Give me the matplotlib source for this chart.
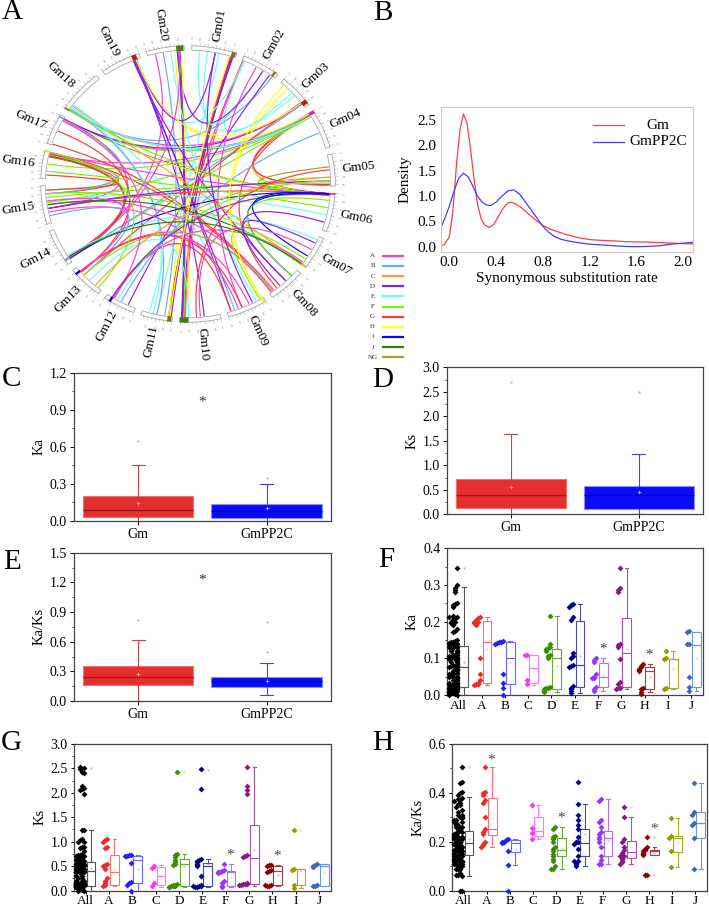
import numpy as np
import matplotlib
matplotlib.use('Agg')
import matplotlib.pyplot as plt
from matplotlib.ticker import AutoMinorLocator

plt.rcParams['font.family'] = ['Liberation Serif', 'DejaVu Serif']

W, H = 709, 909

# ---------------- data ----------------
# A: circos
chroms = ['Gm%02d' % i for i in range(1, 21)]
chrom_len = [56, 48, 45, 52, 42, 51, 44, 47, 50, 51, 39, 40, 44, 49, 51, 37, 41, 58, 50, 47]
groups = ['A', 'B', 'C', 'D', 'E', 'F', 'G', 'H', 'I', 'J', 'NG']
group_col = ['#ff3fd0', '#6aa8ff', '#ff9a33', '#8a22e0', '#6ffcff', '#80ee10',
             '#ff3a3a', '#ffff1a', '#0a0aee', '#2e7d10', '#a8a020']
# (chrom, start Mb, end Mb, group) gene blocks on the ideogram
gene_blocks = [(20, 37, 46, 'J'), (1, 50, 55, 'NG'), (2, 42, 45, 'NG'), (3, 37, 43, 'G'),
               (4, 0, 4, 'A'), (6, 0, 2, 'A'), (7, 42, 44, 'C'), (9, 1, 3, 'H'),
               (10, 40, 51, 'J'), (11, 1, 6, 'NG'), (12, 31, 34, 'I'), (13, 36, 39, 'I'),
               (14, 5, 8, 'B'), (16, 35, 37, 'H'), (17, 37, 39, 'B'), (18, 0, 2, 'NG'), (19, 40, 46, 'G')]
# (chromA, posA, chromB, posB, group)
links = [
    (4, 1.0, 6, 1.0, 'A'), (4, 1.5, 6, 0.5, 'G'), (4, 2.0, 6, 1.5, 'F'), (4, 2.5, 6, 2.0, 'H'),
    (4, 0.5, 5, 41.0, 'A'), (4, 3.0, 5, 40.0, 'G'), (5, 16.0, 6, 1.0, 'NG'), (5, 30.0, 6, 3.0, 'F'),
    (4, 1.0, 17, 38.0, 'A'), (4, 2.0, 18, 1.0, 'H'), (4, 3.0, 17, 36.0, 'F'), (4, 1.5, 16, 34.0, 'A'),
    (4, 2.5, 18, 3.0, 'B'), (4, 0.8, 19, 43.0, 'H'), (4, 4.0, 16, 20.0, 'F'), (4, 5.0, 15, 28.0, 'F'),
    (4, 3.5, 8, 35.0, 'G'), (4, 6.0, 14, 6.0, 'F'),
    (3, 39.0, 17, 38.0, 'D'), (3, 38.0, 18, 2.0, 'A'), (3, 40.0, 14, 5.0, 'B'), (3, 37.0, 13, 30.0, 'G'),
    (3, 20.0, 2, 3.0, 'E'), (3, 12.0, 9, 2.0, 'H'),
    (1, 50.0, 11, 4.0, 'G'), (1, 51.0, 11, 2.0, 'G'), (1, 52.0, 10, 45.0, 'G'), (1, 52.5, 11, 3.0, 'A'),
    (1, 53.0, 11, 1.5, 'D'), (1, 51.5, 10, 47.0, 'D'), (2, 1.0, 11, 5.0, 'G'), (2, 2.0, 10, 44.0, 'A'),
    (1, 35.0, 11, 20.0, 'E'), (1, 20.0, 2, 30.0, 'E'), (1, 10.0, 3, 25.0, 'E'),
    (2, 44.0, 18, 1.0, 'B'), (2, 40.0, 12, 10.0, 'D'), (2, 2.5, 19, 45.0, 'E'), (2, 20.0, 9, 30.0, 'A'),
    (20, 40.0, 10, 47.0, 'J'), (20, 41.0, 10, 46.0, 'F'), (20, 42.0, 10, 48.0, 'D'), (20, 39.0, 10, 49.0, 'D'),
    (20, 38.0, 2, 30.0, 'D'), (20, 35.0, 11, 5.0, 'H'), (20, 43.0, 10, 40.0, 'H'), (20, 30.0, 9, 10.0, 'E'),
    (20, 10.0, 14, 8.0, 'A'), (20, 20.0, 11, 10.0, 'B'),
    (19, 42.0, 10, 20.0, 'D'), (19, 41.0, 9, 40.0, 'D'), (19, 43.0, 9, 45.0, 'D'), (19, 40.0, 8, 20.0, 'D'),
    (19, 44.0, 1, 30.0, 'D'), (19, 44.0, 3, 38.0, 'H'),
    (17, 38.0, 6, 1.0, 'I'), (17, 37.0, 6, 1.5, 'H'), (17, 37.5, 14, 6.0, 'I'), (17, 36.5, 14, 7.0, 'H'),
    (17, 38.5, 14, 6.5, 'A'), (16, 36.0, 8, 44.0, 'G'), (17, 1.0, 8, 42.0, 'G'), (16, 35.0, 6, 2.0, 'A'),
    (16, 34.0, 14, 7.0, 'A'), (16, 30.0, 15, 20.0, 'A'), (16, 33.0, 15, 40.0, 'G'), (16, 32.0, 15, 45.0, 'F'),
    (16, 31.0, 14, 5.0, 'J'), (16, 5.0, 15, 45.0, 'G'), (17, 36.0, 15, 40.0, 'B'), (17, 20.0, 13, 35.0, 'G'),
    (18, 8.0, 7, 42.0, 'C'), (18, 4.0, 4, 5.0, 'E'), (18, 6.0, 11, 25.0, 'E'), (18, 10.0, 9, 40.0, 'E'),
    (18, 3.0, 11, 20.0, 'B'), (18, 2.0, 6, 3.0, 'F'),
    (14, 6.0, 6, 1.0, 'I'), (14, 6.5, 20, 40.0, 'A'), (14, 7.5, 16, 30.0, 'G'), (14, 10.0, 7, 5.0, 'E'),
    (15, 25.0, 8, 40.0, 'A'), (15, 15.0, 9, 35.0, 'A'), (15, 30.0, 6, 30.0, 'E'), (15, 35.0, 5, 38.0, 'F'),
    (15, 40.0, 7, 35.0, 'F'), (15, 20.0, 6, 1.0, 'G'), (15, 20.0, 5, 35.0, 'D'), (15, 10.0, 13, 30.0, 'B'),
    (16, 10.0, 6, 20.0, 'F'), (15, 25.0, 7, 44.0, 'J'),
    (13, 37.0, 8, 44.0, 'A'), (13, 36.0, 9, 20.0, 'A'), (13, 36.5, 9, 30.0, 'G'), (13, 35.0, 15, 30.0, 'A'),
    (13, 30.0, 8, 42.0, 'F'), (13, 5.0, 16, 36.0, 'F'), (13, 20.0, 10, 40.0, 'E'), (13, 10.0, 5, 30.0, 'C'),
    (12, 33.0, 7, 40.0, 'A'), (12, 31.0, 9, 45.0, 'G'), (12, 32.0, 5, 35.0, 'F'), (12, 25.0, 11, 30.0, 'E'),
    (12, 20.0, 4, 30.0, 'B'), (12, 30.0, 17, 35.0, 'A'), (12, 32.5, 6, 3.0, 'D'),
    (6, 2.0, 8, 10.0, 'I'), (6, 1.0, 7, 30.0, 'I'), (7, 10.0, 8, 20.0, 'D'), (7, 44.0, 9, 5.0, 'F'),
    (6, 10.0, 8, 10.0, 'F'), (8, 30.0, 6, 40.0, 'D'), (7, 43.0, 14, 8.0, 'J'), (9, 15.0, 1, 30.0, 'D'),
    (10, 30.0, 5, 20.0, 'G'), (11, 3.0, 1, 48.0, 'H'), (9, 3.0, 3, 5.0, 'H'), (10, 25.0, 7, 20.0, 'A'),
]

# B: density of Ks
gm_x = [-0.074, -0.04, 0.0, 0.03, 0.06, 0.09, 0.12, 0.15, 0.18, 0.21, 0.24, 0.27, 0.30, 0.34,
        0.38, 0.42, 0.46, 0.50, 0.53, 0.57, 0.62, 0.68, 0.74, 0.80, 0.86, 0.92, 1.0, 1.1, 1.2,
        1.3, 1.4, 1.5, 1.6, 1.7, 1.8, 1.9, 2.0, 2.08]
gm_y = [0.01, 0.05, 0.2, 0.7, 1.6, 2.3, 2.62, 2.45, 1.95, 1.35, 0.85, 0.56, 0.43, 0.38,
        0.44, 0.6, 0.76, 0.86, 0.88, 0.84, 0.76, 0.64, 0.52, 0.42, 0.35, 0.3, 0.24, 0.18, 0.14,
        0.125, 0.115, 0.1, 0.095, 0.09, 0.08, 0.07, 0.06, 0.055]
pp_x = [-0.074, -0.04, 0.0, 0.04, 0.08, 0.12, 0.16, 0.2, 0.24, 0.28, 0.32, 0.35, 0.40, 0.45,
        0.50, 0.55, 0.60, 0.65, 0.70, 0.75, 0.80, 0.85, 0.90, 0.95, 1.0, 1.1, 1.2, 1.3, 1.4,
        1.5, 1.6, 1.7, 1.8, 1.9, 2.0, 2.08]
pp_y = [0.37, 0.55, 0.8, 1.1, 1.35, 1.45, 1.38, 1.2, 1.0, 0.88, 0.82, 0.81, 0.88, 1.0,
        1.1, 1.12, 1.04, 0.88, 0.72, 0.56, 0.4, 0.28, 0.2, 0.15, 0.12, 0.08, 0.05, 0.035, 0.02,
        0.005, 0.0, 0.005, 0.02, 0.05, 0.07, 0.085]

# C, D, E: Gm vs GmPP2C box stats
two_names = ['Gm', 'GmPP2C']
c_q1, c_med, c_q3, c_lo, c_hi, c_mean = [0.03, 0.02], [0.09, 0.075], [0.2, 0.135], [0.0, 0.0], [0.455, 0.295], [0.14, 0.1]
c_fl = [[0.645], [0.35]]
d_q1, d_med, d_q3, d_lo, d_hi, d_mean = [0.12, 0.1], [0.4, 0.4], [0.73, 0.58], [0.0, 0.0], [1.63, 1.23], [0.55, 0.45]
d_fl = [[2.7], [2.5]]
e_q1, e_med, e_q3, e_lo, e_hi, e_mean = [0.16, 0.14], [0.24, 0.2], [0.35, 0.245], [0.0, 0.06], [0.62, 0.38], [0.27, 0.2]
e_fl = [[0.82], [0.5, 0.8]]

# F, G, H: per subfamily
cats = ['All', 'A', 'B', 'C', 'D', 'E', 'F', 'G', 'H', 'I', 'J']
ka_pts = [
    [0.213, 0.21, 0.205, 0.2, 0.2, 0.198, 0.195, 0.19, 0.1, 0.058, 0.04, 0.032, 0.03, 0.03, 0.028],
    [0.148, 0.145, 0.145, 0.143, 0.14, 0.058, 0.032, 0.02, 0.0],
    [0.11, 0.108, 0.04, 0.03],
    [0.215, 0.14, 0.13, 0.128, 0.125, 0.12, 0.11, 0.105, 0.1, 0.022, 0.02, 0.018, 0.015, 0.012, 0.01, 0.008],
    [0.248, 0.245, 0.24, 0.212, 0.205, 0.115, 0.105, 0.1, 0.082, 0.078, 0.075, 0.025, 0.02, 0.015, 0.01, 0.005],
    [0.1, 0.095, 0.09, 0.058, 0.05, 0.047, 0.045, 0.022, 0.015, 0.01],
    [0.345, 0.293, 0.285, 0.28, 0.14, 0.135, 0.13, 0.098, 0.035, 0.03, 0.02, 0.018, 0.015],
    [0.085, 0.08, 0.076, 0.072, 0.068, 0.065, 0.02, 0.015, 0.008, 0.004],
    [0.12, 0.1, 0.097, 0.02, 0.015],
    [0.175, 0.172, 0.14, 0.138, 0.048, 0.022, 0.012],
]
ka_ng = [0.0, 0.002, 0.005, 0.008, 0.01, 0.012, 0.015, 0.018, 0.02, 0.022, 0.025, 0.03,
         0.035, 0.04, 0.05, 0.06, 0.07, 0.08, 0.09, 0.12, 0.15, 0.18, 0.25, 0.3]
ka_q1 = [0.022, 0.033, 0.03, 0.033, 0.017, 0.022, 0.022, 0.022, 0.017, 0.02, 0.022]
ka_med = [0.075, 0.145, 0.1, 0.073, 0.102, 0.082, 0.05, 0.115, 0.065, 0.097, 0.137]
ka_q3 = [0.133, 0.202, 0.145, 0.11, 0.125, 0.203, 0.088, 0.21, 0.077, 0.098, 0.172]
ka_lo = [0.0, 0.028, 0.0, 0.028, 0.008, 0.005, 0.01, 0.015, 0.007, 0.015, 0.012]
ka_hi = [0.295, 0.213, 0.148, 0.11, 0.215, 0.248, 0.1, 0.345, 0.085, 0.12, 0.173]
ka_mean = [0.09, 0.125, 0.09, 0.07, 0.078, 0.105, 0.055, 0.125, 0.05, 0.07, 0.1]
ka_fl = [[0.345], [], [], [], [], [], [], [], [], [], []]
ka_star = {6: 0.125, 8: 0.11}

ks_pts = [
    [1.06, 1.03, 1.0, 0.9, 0.88, 0.55, 0.52, 0.5, 0.45, 0.25, 0.2, 0.15, 0.12, 0.1],
    [0.73, 0.72, 0.71, 0.7, 0.56, 0.18, 0.15, 0.12, 0.0],
    [0.5, 0.47, 0.16, 0.1],
    [2.43, 0.75, 0.72, 0.68, 0.62, 0.58, 0.55, 0.52, 0.14, 0.12, 0.1, 0.09, 0.08, 0.07, 0.1, 0.12],
    [2.48, 2.07, 0.65, 0.62, 0.6, 0.58, 0.55, 0.52, 0.5, 0.3, 0.12, 0.1, 0.08, 0.07, 0.09, 0.1],
    [0.55, 0.42, 0.4, 0.38, 0.37, 0.35, 0.2, 0.15, 0.1, 0.08],
    [2.52, 2.15, 2.05, 1.97, 0.72, 0.7, 0.68, 0.15, 0.14, 0.13, 0.12, 0.11, 0.13],
    [0.53, 0.52, 0.5, 0.42, 0.4, 0.38, 0.12, 0.1, 0.1, 0.12],
    [1.23, 0.44, 0.43, 0.12, 0.05],
    [0.55, 0.53, 0.5, 0.48, 0.12, 0.1, 0.1],
]
ks_ng = [0.0, 0.02, 0.05, 0.08, 0.1, 0.12, 0.15, 0.2, 0.25, 0.3, 0.35, 0.4, 0.45, 0.5,
         0.55, 0.6, 0.65, 0.7, 0.8, 0.9, 1.0, 1.23, 2.1, 2.4, 2.5]
ks_q1 = [0.1, 0.12, 0.16, 0.12, 0.1, 0.1, 0.1, 0.14, 0.12, 0.12, 0.1]
ks_med = [0.4, 0.37, 0.62, 0.3, 0.55, 0.5, 0.37, 0.67, 0.39, 0.44, 0.5]
ks_q3 = [0.58, 0.72, 0.71, 0.49, 0.65, 0.57, 0.4, 1.34, 0.51, 0.45, 0.54]
ks_lo = [0.0, 0.1, 0.0, 0.08, 0.07, 0.08, 0.07, 0.1, 0.1, 0.05, 0.1]
ks_hi = [1.23, 1.06, 0.73, 0.52, 0.75, 0.65, 0.55, 2.52, 0.52, 0.45, 0.55]
ks_mean = [0.47, 0.45, 0.45, 0.3, 0.5, 0.55, 0.27, 0.82, 0.32, 0.4, 0.35]
ks_fl = [[2.5], [], [], [], [2.43], [2.47], [], [], [], [1.23], []]
ks_star = {6: 0.72, 8: 0.7}

kk_pts = [
    [0.505, 0.405, 0.4, 0.39, 0.37, 0.36, 0.3, 0.25, 0.24, 0.23, 0.2, 0.19, 0.185, 0.18],
    [0.21, 0.205, 0.2, 0.2, 0.195, 0.16, 0.105, 0.0],
    [0.35, 0.255, 0.235, 0.21],
    [0.26, 0.25, 0.225, 0.22, 0.21, 0.2, 0.18, 0.17, 0.16, 0.15, 0.14, 0.13, 0.12, 0.1, 0.09, 0.088],
    [0.445, 0.353, 0.31, 0.29, 0.27, 0.25, 0.22, 0.2, 0.2, 0.19, 0.17, 0.14, 0.12, 0.11, 0.1, 0.12],
    [0.375, 0.365, 0.29, 0.28, 0.26, 0.24, 0.23, 0.22, 0.21, 0.2, 0.18, 0.14, 0.125, 0.11, 0.108],
    [0.34, 0.3, 0.21, 0.2, 0.18, 0.165, 0.155, 0.14, 0.13, 0.12, 0.115, 0.11, 0.14],
    [0.22, 0.18, 0.17, 0.165, 0.16, 0.155, 0.15, 0.145, 0.065, 0.062],
    [0.295, 0.225, 0.215, 0.16, 0.095],
    [0.44, 0.32, 0.31, 0.275, 0.27, 0.215, 0.088],
]
kk_ng = [0.06, 0.07, 0.1, 0.12, 0.13, 0.14, 0.15, 0.16, 0.17, 0.18, 0.19, 0.2, 0.22,
         0.24, 0.26, 0.28, 0.3, 0.33, 0.38, 0.0]
kk_q1 = [0.145, 0.228, 0.158, 0.225, 0.14, 0.143, 0.14, 0.135, 0.145, 0.158, 0.215]
kk_med = [0.195, 0.252, 0.195, 0.245, 0.165, 0.195, 0.213, 0.158, 0.16, 0.215, 0.275]
kk_q3 = [0.245, 0.378, 0.205, 0.3, 0.215, 0.252, 0.243, 0.202, 0.167, 0.225, 0.32]
kk_lo = [0.06, 0.18, 0.105, 0.21, 0.088, 0.1, 0.108, 0.11, 0.145, 0.095, 0.088]
kk_hi = [0.383, 0.505, 0.21, 0.35, 0.26, 0.353, 0.375, 0.3, 0.18, 0.295, 0.44]
kk_mean = [0.21, 0.295, 0.17, 0.26, 0.175, 0.232, 0.205, 0.178, 0.155, 0.2, 0.275]
kk_fl = [[0.505], [], [], [], [], [], [], [0.34], [0.22, 0.062], [], []]
kk_star = {1: 0.535, 4: 0.295, 8: 0.25}

dot_col = ['black', '#ee2a2a', '#1f1fff', '#ff33ff', '#3c8c00', '#000088',
           '#9933ff', '#881a88', '#8b0000', '#999900', '#3a6ab8']
box_col = ['#555555', '#ff6f6f', '#6a6aff', '#ff77ff', '#6aaa3a', '#4a4aa8',
           '#aa70ff', '#aa55aa', '#a84040', '#aaaa30', '#6d96d8']


def px(l, t, r, b):
    return [l / W, 1 - b / H, (r - l) / W, (b - t) / H]


fig = plt.figure(figsize=(W / 100, H / 100), dpi=100)

# ---------------- A: circos ----------------
cx, cy, rx, ry = 188, 184, 145, 136
axA = fig.add_axes(px(cx - 1.3 * rx, cy - 1.3 * ry, cx + 1.3 * rx, cy + 1.3 * ry))
axA.set_xlim(-1.3, 1.3)
axA.set_ylim(-1.3, 1.3)
axA.axis('off')

k = 300.0 / sum(chrom_len)
gap = 3.0
cum = np.concatenate([[0], np.cumsum(chrom_len)[:-1]])
start = [90 - gap / 2 - cum[i] * k - gap * i for i in range(20)]


def ang(c, pos):
    return np.deg2rad(start[c - 1] - pos * k)


gcol = dict(zip(groups, group_col))

for ca, pa, cb, pb, g in links:
    a1, a2 = ang(ca, pa), ang(cb, pb)
    r = 0.975
    p0 = np.array([r * np.cos(a1), r * np.sin(a1)])
    p2 = np.array([r * np.cos(a2), r * np.sin(a2)])
    t = np.linspace(0, 1, 80)[:, None]
    curve = (1 - t) ** 2 * p0 + t ** 2 * p2
    axA.plot(curve[:, 0], curve[:, 1], color=gcol[g], lw=0.85, zorder=1)

r0, r1 = 0.984, 1.016
for i in range(20):
    th = np.linspace(ang(i + 1, 0), ang(i + 1, chrom_len[i]), 80)
    xs = np.r_[r1 * np.cos(th), r0 * np.cos(th[::-1])]
    ys = np.r_[r1 * np.sin(th), r0 * np.sin(th[::-1])]
    axA.fill(xs, ys, facecolor='white', edgecolor='#9a9a9a', lw=0.5, zorder=3)
    for p in range(0, chrom_len[i] + 1, 5):
        a = ang(i + 1, p)
        rt = 1.04 if p % 10 == 0 else 1.03
        axA.plot([r1 * np.cos(a), rt * np.cos(a)], [r1 * np.sin(a), rt * np.sin(a)],
                 color='#999999', lw=0.3, zorder=3)
        if p % 10 == 0:
            d = np.rad2deg(a)
            axA.text(1.065 * np.cos(a), 1.065 * np.sin(a), str(p), fontsize=2.0, color='#888888',
                     ha='center', va='center', rotation=d - 90)
    mid = ang(i + 1, chrom_len[i] / 2)
    d = (np.rad2deg(mid) + 180) % 360 - 180
    rot = d + 180 if (d > 90 or d < -90) else d
    axA.text(1.185 * np.cos(mid), 1.185 * np.sin(mid), chroms[i], fontsize=9.5,
             rotation=rot, rotation_mode='anchor', ha='center', va='center')

for c, s, e, g in gene_blocks:
    th = np.linspace(ang(c, s), ang(c, e), 20)
    xs = np.r_[1.02 * np.cos(th), 0.98 * np.cos(th[::-1])]
    ys = np.r_[1.02 * np.sin(th), 0.98 * np.sin(th[::-1])]
    shade = {'NG': '#8a6a10', 'G': '#b02020', 'J': '#4a7a10', 'I': '#0000cc',
             'B': '#6a9ae8', 'A': '#e020c0', 'C': '#ffaa00', 'H': '#eeee00'}[g]
    axA.fill(xs, ys, facecolor=shade, edgecolor='none', zorder=4)

# legend of A
axL = fig.add_axes(px(362, 248, 410, 364))
axL.set_xlim(362, 410)
axL.set_ylim(364, 248)
axL.axis('off')
for i, g in enumerate(groups):
    y = 255.7 + i * 10.16
    axL.text(372.7, y, g, fontsize=5, ha='center', va='center', color='#333333')
    axL.plot([382.7, 402.7], [y, y], color=group_col[i], lw=1.6)

# ---------------- B: density ----------------
axB = fig.add_axes(px(440.7, 107.3, 692.7, 251.7))
axB.plot(gm_x, gm_y, color='#ff4040', lw=0.9)
axB.plot(pp_x, pp_y, color='#4040ff', lw=0.9)
axB.set_xlim(-0.074, 2.08)
axB.set_ylim(-0.099, 2.75)
axB.set_xticks([0.0, 0.4, 0.8, 1.2, 1.6, 2.0])
axB.set_yticks([0.0, 0.5, 1.0, 1.5, 2.0, 2.5])
axB.xaxis.set_major_formatter(plt.FormatStrFormatter('%.1f'))
axB.yaxis.set_major_formatter(plt.FormatStrFormatter('%.1f'))
axB.tick_params(length=0, labelsize=11, pad=3)
for s in axB.spines.values():
    s.set_color('#cccccc')
axB.set_xlabel('Synonymous substitution rate', fontsize=11, labelpad=2)
axB.set_ylabel('Density', fontsize=11, labelpad=4)
for j, (lab, col) in enumerate([('Gm', '#ff4040'), ('GmPP2C', '#4040ff')]):
    yy = 0.877 - j * 0.115
    axB.plot([0.604, 0.727], [yy, yy], color=col, lw=0.9, transform=axB.transAxes)
    axB.text(0.862, yy, lab, fontsize=11, ha='center', va='center', transform=axB.transAxes)


# ---------------- C, D, E ----------------
def two_box(rect, q1, med, q3, lo, hi, mean, fl, ylim, yticks, ylabel, star):
    ax = fig.add_axes(px(*rect))
    stats = [dict(q1=q1[i], med=med[i], q3=q3[i], whislo=lo[i], whishi=hi[i],
                  mean=mean[i], fliers=fl[i]) for i in range(2)]
    bp = ax.bxp(stats, positions=[1, 2], widths=0.86, capwidths=0.1, patch_artist=True,
                showmeans=True, manage_ticks=False)
    face = ['#e52e2e', '#0a0aff']
    edge = ['#ee7070', '#8c8cff']
    medc = ['#a01818', '#0000a0']
    whc = ['#c04848', '#4040ff']
    light = ['#f3a0a0', '#b8a8ff']
    for i in range(2):
        bp['boxes'][i].set(facecolor=face[i], edgecolor=edge[i], lw=0.8)
        bp['medians'][i].set(color=medc[i], lw=1.0)
        for w in bp['whiskers'][2 * i:2 * i + 2] + bp['caps'][2 * i:2 * i + 2]:
            w.set(color=whc[i], lw=0.8)
        bp['means'][i].set(marker='+', markersize=3, markeredgecolor=light[i],
                           markerfacecolor=light[i], markeredgewidth=0.6)
        bp['fliers'][i].set(marker='s', markersize=1.6, markeredgecolor='none',
                            markerfacecolor=light[i])
    ax.set_xlim(0.5, 2.5)
    ax.set_ylim(*ylim)
    ax.set_yticks(yticks)
    ax.yaxis.set_major_formatter(plt.FormatStrFormatter('%.1f'))
    ax.yaxis.set_minor_locator(AutoMinorLocator(2))
    ax.set_xticks([1, 2])
    ax.set_xticklabels(two_names)
    ax.tick_params(labelsize=10, length=3, width=0.7, pad=2)
    ax.tick_params(which='minor', length=1.5, width=0.5)
    for s in ax.spines.values():
        s.set_color('#444444')
        s.set_linewidth(0.9)
    ax.set_ylabel(ylabel, fontsize=10.5, labelpad=3)
    if star is not None:
        ax.text(1.5, star, '*', fontsize=11, ha='center', va='center', color='#333333')
    return ax


two_box((74, 372.7, 330.7, 520.7), c_q1, c_med, c_q3, c_lo, c_hi, c_mean, c_fl,
        (0, 1.2), [0.0, 0.3, 0.6, 0.9, 1.2], 'Ka', 0.96)
two_box((446.7, 367.3, 702.7, 514.3), d_q1, d_med, d_q3, d_lo, d_hi, d_mean, d_fl,
        (0, 3.0), [0.0, 0.5, 1.0, 1.5, 2.0, 2.5, 3.0], 'Ks', None)
two_box((74, 552.7, 330.7, 701), e_q1, e_med, e_q3, e_lo, e_hi, e_mean, e_fl,
        (0, 1.5), [0.0, 0.3, 0.6, 0.9, 1.2, 1.5], 'Ka/Ks', 1.22)


# ---------------- F, G, H ----------------
def swarm(vals, span):
    offs = []
    placed = []
    for v in vals:
        n = sum(1 for p in placed if abs(p - v) < span)
        placed.append(v)
        offs.append(-0.07 - 0.085 * (n % 5))
    return np.array(offs)


def group_panel(rect, pts, ng, q1, med, q3, lo, hi, mean, fl, ylim, yticks, ylabel, stars, fmt):
    ax = fig.add_axes(px(*rect))
    all_vals = ng + [v for grp in pts for v in grp]
    cols_vals = [all_vals] + pts
    for i, vals in enumerate(cols_vals):
        offs = swarm(vals, 0.022 * ylim[1])
        ax.scatter(i + offs, vals, s=9, marker='D', color=dot_col[i], linewidths=0,
                   zorder=3, clip_on=False)
    stats = [dict(q1=q1[i], med=med[i], q3=q3[i], whislo=lo[i], whishi=hi[i],
                  mean=mean[i], fliers=fl[i]) for i in range(len(cats))]
    bp = ax.bxp(stats, positions=np.arange(len(cats)) + 0.23, widths=0.38, capwidths=0.16,
                patch_artist=True, showmeans=True, manage_ticks=False)
    for i in range(len(cats)):
        c = box_col[i]
        bp['boxes'][i].set(facecolor='none', edgecolor=c, lw=0.8)
        bp['medians'][i].set(color=c, lw=0.9)
        for w in bp['whiskers'][2 * i:2 * i + 2] + bp['caps'][2 * i:2 * i + 2]:
            w.set(color=c, lw=0.8)
        bp['means'][i].set(marker='s', markersize=1.6, markeredgecolor='none',
                           markerfacecolor=c, alpha=0.35)
        bp['fliers'][i].set(marker='s', markersize=1.6, markeredgecolor='none',
                            markerfacecolor=c, alpha=0.35)
    for i, y in stars.items():
        ax.text(i + 0.2, y, '*', fontsize=11, ha='center', va='center', color='#444444')
    ax.set_xlim(-0.5, len(cats) - 0.5)
    ax.set_ylim(*ylim)
    ax.set_yticks(yticks)
    ax.yaxis.set_major_formatter(plt.FormatStrFormatter(fmt))
    ax.yaxis.set_minor_locator(AutoMinorLocator(2))
    ax.set_xticks(np.arange(len(cats)))
    ax.set_xticklabels(cats)
    ax.tick_params(labelsize=10, length=2.5, width=0.7, pad=2)
    ax.tick_params(axis='x', labelsize=9.5, pad=0.8)
    ax.tick_params(which='minor', length=1.5, width=0.5)
    for s in ax.spines.values():
        s.set_color('#444444')
        s.set_linewidth(0.9)
    ax.set_ylabel(ylabel, fontsize=10.5, labelpad=3)
    return ax


group_panel((446.7, 548.3, 702.7, 695), ka_pts, ka_ng, ka_q1, ka_med, ka_q3, ka_lo, ka_hi,
            ka_mean, ka_fl, (0, 0.4), [0.0, 0.1, 0.2, 0.3, 0.4], 'Ka', ka_star, '%.1f')
group_panel((74, 744, 330.7, 890.5), ks_pts, ks_ng, ks_q1, ks_med, ks_q3, ks_lo, ks_hi,
            ks_mean, ks_fl, (0, 3.0), [0.0, 0.5, 1.0, 1.5, 2.0, 2.5, 3.0], 'Ks', ks_star, '%.1f')
group_panel((452, 744, 707, 890.5), kk_pts, kk_ng, kk_q1, kk_med, kk_q3, kk_lo, kk_hi,
            kk_mean, kk_fl, (0, 0.6), [0.0, 0.2, 0.4, 0.6], 'Ka/Ks', kk_star, '%.1f')

# panel letters
for lab, x, y in [('A', 12.3, 12), ('B', 383, 12.5), ('C', 11.7, 379), ('D', 383, 380),
                  ('E', 11.7, 561.7), ('F', 386, 560), ('G', 11.7, 743), ('H', 383, 743)]:
    fig.text(x / W, 1 - y / H, lab, fontsize=21, ha='center', va='center')

fig.savefig('out.png', dpi=100)
